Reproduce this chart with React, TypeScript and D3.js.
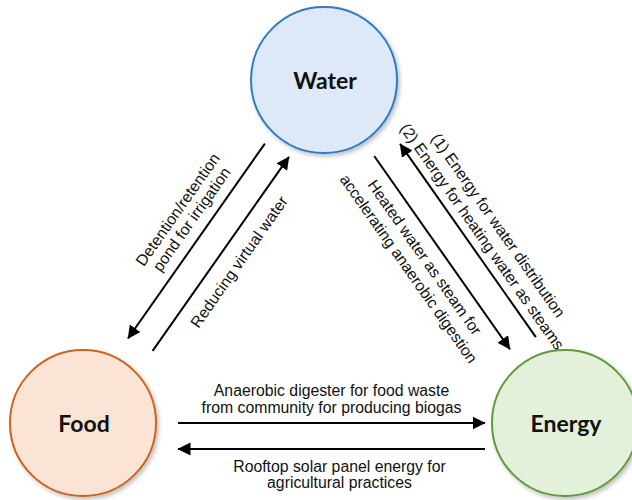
import * as d3 from 'd3';

// nodes of the nexus
const nodeNames = ['Water', 'Food', 'Energy'];
const nodeFills = ['#dde9f6', '#fbe4d6', '#e3f0da'];
const nodeStrokes = ['#2e7bc4', '#c9651f', '#5f9a3b'];

// links between nodes
const linkSources = ['Water', 'Food', 'Water', 'Energy', 'Food', 'Energy'];
const linkTargets = ['Food', 'Water', 'Energy', 'Water', 'Energy', 'Food'];
const linkLabels = [
  ['Detention/retention', 'pond for irrigation'],
  ['Reducing virtual water'],
  ['Heated water as steam for', 'accelerating anaerobic digestion'],
  ['(1) Energy for water distribution', '(2) Energy for heating water as steams'],
  ['Anaerobic digester for food waste', 'from community for producing biogas'],
  ['Rooftop solar panel energy for', 'agricultural practices'],
];

const W = 632;
const H = 500;
const R = 73;
const nodeCenters: Record<string, [number, number]> = {
  Water: [324, 80],
  Food: [83, 423],
  Energy: [565, 423],
};

// offset: sideways shift of the arrow, start/end: distance from node centres
// shift: label slide along the arrow, baselines: label lines distance from the arrow
const linkLayout = [
  { offset: 11.8, start: 86, end: 95, shift: 15, baselines: [28, 11] },
  { offset: 15.5, start: 99, end: 83, shift: 4, baselines: [-25] },
  { offset: 2.6, start: 91, end: 92, shift: -6, baselines: [-22.5, -42] },
  { offset: 25.5, start: 87, end: 96, shift: 5, baselines: [28, 8.5] },
  { offset: 0, start: 95, end: 80, shift: 0, baselines: [27, 10.5] },
  { offset: -26, start: 80, end: 95, shift: 8, baselines: [-23, -38.5] },
];

const lineGen = d3.line();

function linkGeometry(i: number) {
  const [px, py] = nodeCenters[linkSources[i]];
  const [qx, qy] = nodeCenters[linkTargets[i]];
  const len = Math.hypot(qx - px, qy - py);
  const ux = (qx - px) / len;
  const uy = (qy - py) / len;
  const nx = -uy;
  const ny = ux;
  const L = linkLayout[i];
  const a: [number, number] = [px + ux * L.start + nx * L.offset, py + uy * L.start + ny * L.offset];
  const b: [number, number] = [qx - ux * L.end + nx * L.offset, qy - uy * L.end + ny * L.offset];
  let angle = (Math.atan2(uy, ux) * 180) / Math.PI;
  if (angle > 90) angle -= 180;
  if (angle < -90) angle += 180;
  const rad = (angle * Math.PI) / 180;
  const rdir = [Math.cos(rad), Math.sin(rad)];
  const up = [Math.sin(rad), -Math.cos(rad)];
  const mx = (a[0] + b[0]) / 2 + rdir[0] * L.shift;
  const my = (a[1] + b[1]) / 2 + rdir[1] * L.shift;
  const labels = linkLabels[i].map((t, j) => ({
    text: t,
    x: mx + up[0] * L.baselines[j],
    y: my + up[1] * L.baselines[j],
  }));
  return { a, b, angle, labels };
}

export default function App() {
  const fill = d3.scaleOrdinal<string, string>().domain(nodeNames).range(nodeFills);
  const stroke = d3.scaleOrdinal<string, string>().domain(nodeNames).range(nodeStrokes);
  const links = linkSources.map((_, i) => linkGeometry(i));

  return (
    <div style={{ position: 'absolute', left: 0, top: 0 }}>
      <svg width={W} height={H} style={{ display: 'block', background: '#fff' }}>
        <defs>
          <marker id="head" markerUnits="userSpaceOnUse" markerWidth={14} markerHeight={14}
            refX={12.5} refY={6.5} orient="auto">
            <path d="M0,0 L13,6.5 L0,13 Z" fill="#000" />
          </marker>
          <filter id="shadow" x="-20%" y="-20%" width="140%" height="140%">
            <feDropShadow dx={2} dy={2.5} stdDeviation={2} floodColor="#000" floodOpacity={0.25} />
          </filter>
        </defs>

        {nodeNames.map(n => (
          <g key={n}>
            <circle cx={nodeCenters[n][0]} cy={nodeCenters[n][1]} r={R}
              fill={fill(n)} stroke={stroke(n)} strokeWidth={2} filter="url(#shadow)" />
            <text x={nodeCenters[n][0] + 1} y={nodeCenters[n][1] + 9} textAnchor="middle"
              fontFamily="Lato, 'Open Sans', sans-serif" fontWeight="bold" fontSize={23} fill="#111">
              {n}
            </text>
          </g>
        ))}

        {links.map((l, i) => (
          <g key={i}>
            <path d={lineGen([l.a, l.b]) || ''} stroke="#000" strokeWidth={2} fill="none" markerEnd="url(#head)" />
            {l.labels.map((lab, j) => (
              <text key={j} transform={`translate(${lab.x},${lab.y}) rotate(${l.angle})`}
                textAnchor="middle" fontFamily="'Liberation Sans', Arial, sans-serif" fontSize={15.8} fill="#111">
                {lab.text}
              </text>
            ))}
          </g>
        ))}
      </svg>
    </div>
  );
}
